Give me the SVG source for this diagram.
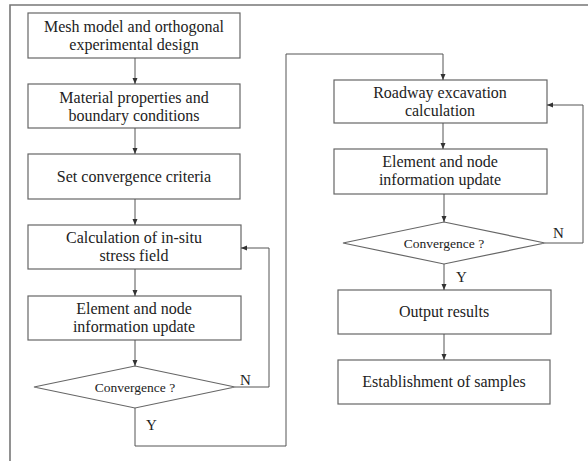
<svg xmlns="http://www.w3.org/2000/svg" width="588" height="461" viewBox="0 0 588 461">
<defs>
<style>
.box{fill:#fff;stroke:#666;stroke-width:1.2}
.t{font-family:"Liberation Serif","Times New Roman",serif;font-size:16px;fill:#222;text-anchor:middle}
.s{font-family:"Liberation Serif","Times New Roman",serif;font-size:13.5px;fill:#222;text-anchor:middle}
.l{font-family:"Liberation Serif","Times New Roman",serif;font-size:15px;fill:#222}
.c{fill:none;stroke:#555;stroke-width:1}
</style>
<marker id="ah" viewBox="0 0 6 6" refX="6" refY="3" markerWidth="6" markerHeight="6" markerUnits="userSpaceOnUse" orient="auto">
<path d="M0,0.5 L6,3 L0,5.5 Z" fill="#333"/>
</marker>
</defs>
<rect width="588" height="461" fill="#fff"/>
<g id="frame" fill="none" stroke="#777" stroke-width="1.6">
<path d="M10,461 V5 H588"/>
</g>
<g id="n1"><rect class="box" x="28" y="13" width="212" height="45"/><text class="t" x="134" y="32">Mesh model and orthogonal</text><text class="t" x="134" y="50">experimental design</text></g>
<g id="n2"><rect class="box" x="28" y="84" width="212" height="44"/><text class="t" x="134" y="103">Material properties and</text><text class="t" x="134" y="121">boundary conditions</text></g>
<g id="n3"><rect class="box" x="28" y="154" width="212" height="45"/><text class="t" x="134" y="182">Set convergence criteria</text></g>
<g id="n4"><rect class="box" x="28" y="225" width="213" height="44"/><text class="t" x="134" y="243">Calculation of in-situ</text><text class="t" x="134" y="261">stress field</text></g>
<g id="n5"><rect class="box" x="28" y="296" width="213" height="44"/><text class="t" x="134" y="314">Element and node</text><text class="t" x="134" y="332">information update</text></g>
<g id="d1"><polygon class="box" points="135,366 235,387 135,408 34,387"/><text class="s" x="135" y="392">Convergence ?</text></g>
<g id="r1"><rect class="box" x="334" y="80" width="213" height="43"/><text class="t" x="440" y="98">Roadway excavation</text><text class="t" x="440" y="116">calculation</text></g>
<g id="r2"><rect class="box" x="334" y="149" width="213" height="45"/><text class="t" x="440" y="167">Element and node</text><text class="t" x="440" y="185">information update</text></g>
<g id="d2"><polygon class="box" points="444,222 545,243 444,264 343,243"/><text class="s" x="444" y="248">Convergence ?</text></g>
<g id="r3"><rect class="box" x="338" y="290" width="213" height="44"/><text class="t" x="444" y="317">Output results</text></g>
<g id="r4"><rect class="box" x="338" y="360" width="212" height="44"/><text class="t" x="444" y="387">Establishment of samples</text></g>
<g id="connectors">
<path class="c" d="M135,58 V84" marker-end="url(#ah)"/>
<path class="c" d="M135,128 V154" marker-end="url(#ah)"/>
<path class="c" d="M135,199 V225" marker-end="url(#ah)"/>
<path class="c" d="M135,269 V296" marker-end="url(#ah)"/>
<path class="c" d="M135,340 V366" marker-end="url(#ah)"/>
<path class="c" d="M235,387 H269 V248 H241" marker-end="url(#ah)"/>
<path class="c" d="M135,408 V446 H286 V54 H443 V80" marker-end="url(#ah)"/>
<path class="c" d="M443,123 V149" marker-end="url(#ah)"/>
<path class="c" d="M444,194 V222" marker-end="url(#ah)"/>
<path class="c" d="M545,243 H583 V105 H547" marker-end="url(#ah)"/>
<path class="c" d="M444,264 V290" marker-end="url(#ah)"/>
<path class="c" d="M444,334 V360" marker-end="url(#ah)"/>
<text class="l" x="240" y="385">N</text>
<text class="l" x="146" y="430">Y</text>
<text class="l" x="553" y="238">N</text>
<text class="l" x="456" y="282">Y</text>
</g>
</svg>
